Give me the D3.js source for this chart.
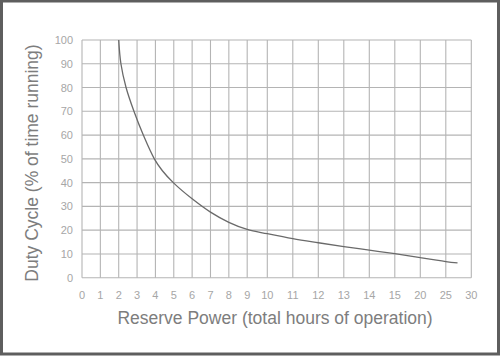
<!DOCTYPE html>
<html><head><meta charset="utf-8">
<script src="https://cdn.jsdelivr.net/npm/d3@7"></script>
<style>
html,body{margin:0;padding:0;background:#fff;}
svg{display:block;}
text{font-family:"Liberation Sans",Arial,sans-serif;}
</style></head>
<body><svg id="c" width="500" height="356"></svg>
<script>
// Data
const xTickLabels = [0,1,2,3,4,5,6,7,8,9,10,11,12,13,14,15,20,25,30];
const yTickLabels = [0,10,20,30,40,50,60,70,80,90,100];
const hours = [2.0, 2.12, 2.4, 2.83, 3.34, 3.94, 4.38, 5.0, 6.0, 7.0, 8.0, 9.0, 10, 11, 12, 13, 14, 15, 20, 25, 27.3];
const duty  = [100, 90, 80, 70, 60, 50, 45, 39.8, 33.2, 27.6, 23.3, 20.3, 18.5, 16.4, 14.7, 13.1, 11.6, 10.1, 8.4, 6.8, 6.2];

const svg = d3.select("#c");
// frame
svg.append("rect").attr("x",1.5).attr("y",1).attr("width",497).attr("height",353)
  .attr("fill","#fff").attr("stroke","#5e5e5e").attr("stroke-width",3);

// piecewise x scale (axis is not uniform in the original)
const x = d3.scaleLinear()
  .domain([0, 9, 10, 15, 30])
  .range([82, 247.2, 267.3, 394.8, 471.3]);
const y = d3.scaleLinear().domain([0, 100]).range([277.7, 40]);

const grid = svg.append("g").attr("stroke","#b4b4b4").attr("stroke-width",1.1);
grid.selectAll("line.v").data(xTickLabels).join("line").attr("class","v")
  .attr("x1",d=>x(d)).attr("x2",d=>x(d)).attr("y1",y(100)).attr("y2",y(0));
grid.selectAll("line.h").data(yTickLabels).join("line").attr("class","h")
  .attr("x1",x(0)).attr("x2",x(30)).attr("y1",d=>y(d)).attr("y2",d=>y(d));

// tick labels
svg.append("g").selectAll("text").data(yTickLabels).join("text")
  .attr("x",73).attr("y",d=>y(d)+4).attr("text-anchor","end")
  .attr("font-size",11).attr("fill","#a6a6a6").text(d=>d);
svg.append("g").selectAll("text").data(xTickLabels).join("text")
  .attr("x",d=>x(d)).attr("y",298.5).attr("text-anchor","middle")
  .attr("font-size",11).attr("fill","#a6a6a6").text(d=>d);

// curve
const pts = hours.map((h,i)=>[h,duty[i]]);
svg.append("path").datum(pts)
  .attr("fill","none").attr("stroke","#6a6a6a").attr("stroke-width",1.3)
  .attr("d", d3.line().x(d=>x(d[0])).y(d=>y(d[1])).curve(d3.curveCatmullRom.alpha(0.5)));

// axis titles
svg.append("text").attr("x",275).attr("y",324).attr("text-anchor","middle")
  .attr("font-size",17.5).attr("fill","#7d7d7d")
  .text("Reserve Power (total hours of operation)");
svg.append("text").attr("transform","translate(38,163) rotate(-90)")
  .attr("text-anchor","middle").attr("font-size",17.5).attr("fill","#7d7d7d")
  .text("Duty Cycle (% of time running)");
</script></body></html>
